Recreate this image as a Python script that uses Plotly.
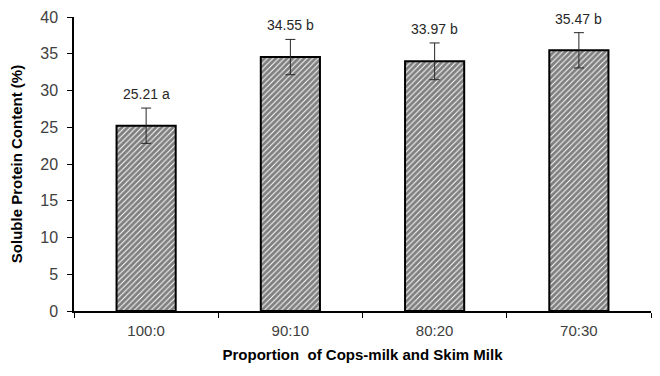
import plotly.graph_objects as go

# Soluble protein content by cops-milk : skim milk proportion
categories = ["100:0", "90:10", "80:20", "70:30"]
means = [25.21, 34.55, 33.97, 35.47]
errors = [2.4, 2.4, 2.5, 2.4]
letters = ["a", "b", "b", "b"]

fig = go.Figure()
fig.add_trace(go.Bar(
    x=categories,
    y=means,
    width=0.41,
    marker=dict(
        color="white",
        line=dict(color="black", width=2),
        pattern=dict(shape="/", fgcolor="black", bgcolor="white", size=4, solidity=0.75),
    ),
    error_y=dict(type="data", array=errors, visible=True, color="#262626",
                 thickness=1, width=5),
    hoverinfo="skip",
))

for c, m, e, l in zip(categories, means, errors, letters):
    fig.add_annotation(x=c, y=m + e, text=f"{m:.2f} {l}", showarrow=False,
                       yanchor="bottom", yshift=4,
                       font=dict(family="Liberation Sans, Arial", size=14, color="#262626"))

fig.update_layout(
    width=660, height=376,
    margin=dict(l=74, r=9, t=15, b=65),
    paper_bgcolor="white", plot_bgcolor="white",
    showlegend=False,
    font=dict(family="Liberation Sans, Arial", size=14, color="#404040"),
    xaxis=dict(
        showline=True, linecolor="black", linewidth=1.5,
        ticks="outside", tickson="boundaries", ticklen=5, tickcolor="black",
        ticklabelstandoff=5,
        tickfont=dict(size=15, color="#404040"),
        title=dict(text="<b>Proportion  of Cops-milk and Skim Milk</b>",
                   font=dict(size=15, color="black"), standoff=12),
    ),
    yaxis=dict(
        range=[0, 40], dtick=5, showgrid=False, zeroline=False,
        showline=True, linecolor="black", linewidth=1.5,
        ticks="outside", ticklen=5, tickcolor="black",
        ticklabelstandoff=6,
        tickfont=dict(size=16, color="#404040"),
        title=dict(text="<b>Soluble Protein Content (%)</b>",
                   font=dict(size=15, color="black"), standoff=14),
    ),
)

fig.write_html("out.html")
